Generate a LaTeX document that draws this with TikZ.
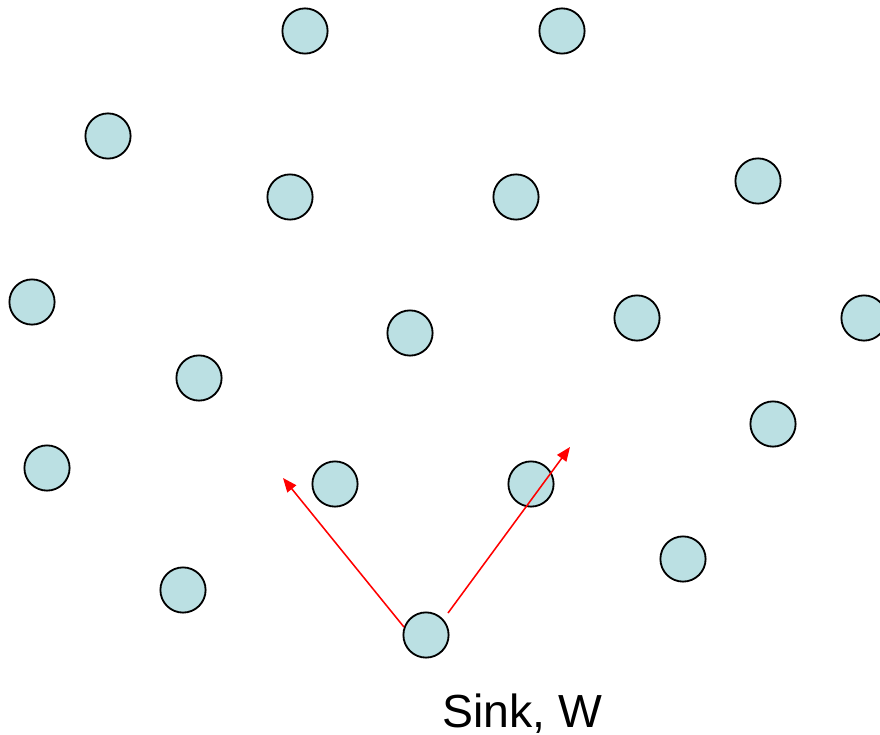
\documentclass[tikz,border=0pt]{standalone}
\usepackage{fontspec}
\setmainfont{Liberation Sans}
\usetikzlibrary{arrows.meta}
\definecolor{sensorfill}{RGB}{187,224,227}
\tikzset{
  sensor/.style={circle, draw=black, line width=1.3pt, fill=sensorfill, minimum size=1.13cm, inner sep=0pt},
  beam/.style={red, line width=1.1pt, -{Triangle[length=10pt,width=8pt]}}
}
\begin{document}
\begin{tikzpicture}[x=0.025cm, y=-0.025cm]
\useasboundingbox (0,0) rectangle (880,735);
\clip (0,0) rectangle (880,735);

% Draw sensor nodes
\node[sensor] (n1) at (305,31) {};
\node[sensor] (n2) at (562,31) {};
\node[sensor] (n3) at (108,136) {};
\node[sensor] (n4) at (290,197) {};
\node[sensor] (n5) at (516,197) {};
\node[sensor] (n6) at (758,181) {};
\node[sensor] (n7) at (32,302) {};
\node[sensor] (n8) at (410,333) {};
\node[sensor] (n9) at (637,318) {};
\node[sensor] (n10) at (864,318) {};
\node[sensor] (n11) at (199,378) {};
\node[sensor] (n12) at (773,424) {};
\node[sensor] (n13) at (47,468) {};
\node[sensor] (n14) at (335,484) {};
\node[sensor] (n15) at (531,484) {};
\node[sensor] (n16) at (683,559) {};
\node[sensor] (n17) at (183,590) {};
\node[sensor] (sink) at (426,635) {};

% Sink label
\node[anchor=base, font=\fontsize{33}{40}\selectfont] (sinklabel) at (522,727) {Sink, W};

% Arrows from the sink
\coordinate (tipL) at (283,478);
\coordinate (startR) at (448,613);
\coordinate (tipR) at (570,447);
\draw[beam] (sink.160) -- (tipL);
\draw[beam] (startR) -- (tipR);
\end{tikzpicture}
\end{document}
